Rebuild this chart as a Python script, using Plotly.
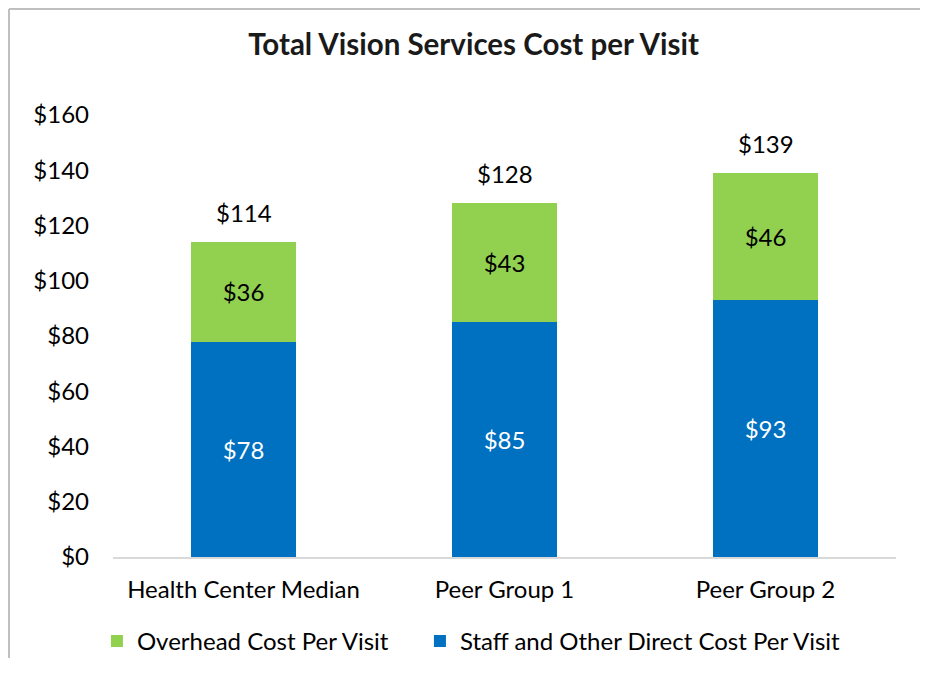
import plotly.graph_objects as go

categories = ["Health Center Median", "Peer Group 1", "Peer Group 2"]
staff_direct = [78, 85, 93]
overhead = [36, 43, 46]
totals = [114, 128, 139]
y_ticks = [0, 20, 40, 60, 80, 100, 120, 140, 160]

FONT = "Lato"
BLUE = "#0070C0"
GREEN = "#92D050"
FS = 24
W, H = 920, 650  # page body adds an 8px margin; keep page free of scrollbars

fig = go.Figure()
fig.add_trace(go.Bar(
    x=categories, y=staff_direct, name="Staff and Other Direct Cost Per Visit",
    marker=dict(color=BLUE, line=dict(width=0)),
    text=[f"${v}" for v in staff_direct], textposition="inside", insidetextanchor="middle",
    textfont=dict(color="white", size=FS, family=FONT), legend="legend2",
))
fig.add_trace(go.Bar(
    x=categories, y=overhead, name="Overhead Cost Per Visit",
    marker=dict(color=GREEN, line=dict(width=0)),
    text=[f"${v}" for v in overhead], textposition="inside", insidetextanchor="middle",
    textfont=dict(color="black", size=FS, family=FONT), legend="legend",
))

for c, t in zip(categories, totals):
    fig.add_annotation(x=c, y=t, text=f"${t}", showarrow=False, yanchor="bottom",
                       yshift=13, font=dict(size=FS, color="black", family=FONT))

leg_common = dict(orientation="h", xanchor="left", y=-0.14, yanchor="top",
                  font=dict(size=FS, family=FONT), itemwidth=30, bgcolor="rgba(0,0,0,0)")
fig.update_layout(
    barmode="stack", bargap=0.6,
    width=W, height=H,
    paper_bgcolor="white", plot_bgcolor="white",
    margin=dict(l=105, r=W - 888, t=107, b=H - 549, autoexpand=False),
    font=dict(family=FONT, size=FS, color="black"),
    title=dict(text="<b>Total Vision Services Cost per Visit</b>", x=0.506, xanchor="center",
               y=1 - 37 / H, yanchor="middle", font=dict(size=29.5, family=FONT, color="#1a1a1a")),
    legend=dict(x=-0.0205, **leg_common),
    legend2=dict(x=0.392, **leg_common),
    showlegend=True,
    uniformtext=dict(mode="show", minsize=10),
)
fig.update_yaxes(range=[0, 160], tickvals=y_ticks, ticktext=[f"${v}" for v in y_ticks],
                 showgrid=False, zeroline=False, showline=False, ticks="",
                 ticklabelstandoff=23, tickfont=dict(size=FS, family=FONT))
fig.update_xaxes(showline=True, linecolor="#D9D9D9", linewidth=2, ticks="",
                 ticklabelstandoff=10, tickfont=dict(size=FS, family=FONT))

# chart border (left and top edges visible)
top = 1 + (107 - 1) / 442
left = (1 - 105) / 783
fig.add_shape(type="line", xref="paper", yref="paper", x0=left, x1=1.1, y0=top, y1=top,
              line=dict(color="#BFBFBF", width=2))
fig.add_shape(type="line", xref="paper", yref="paper", x0=left, x1=left, y0=-0.3, y1=top,
              line=dict(color="#BFBFBF", width=2))

fig.write_html("out.html")
